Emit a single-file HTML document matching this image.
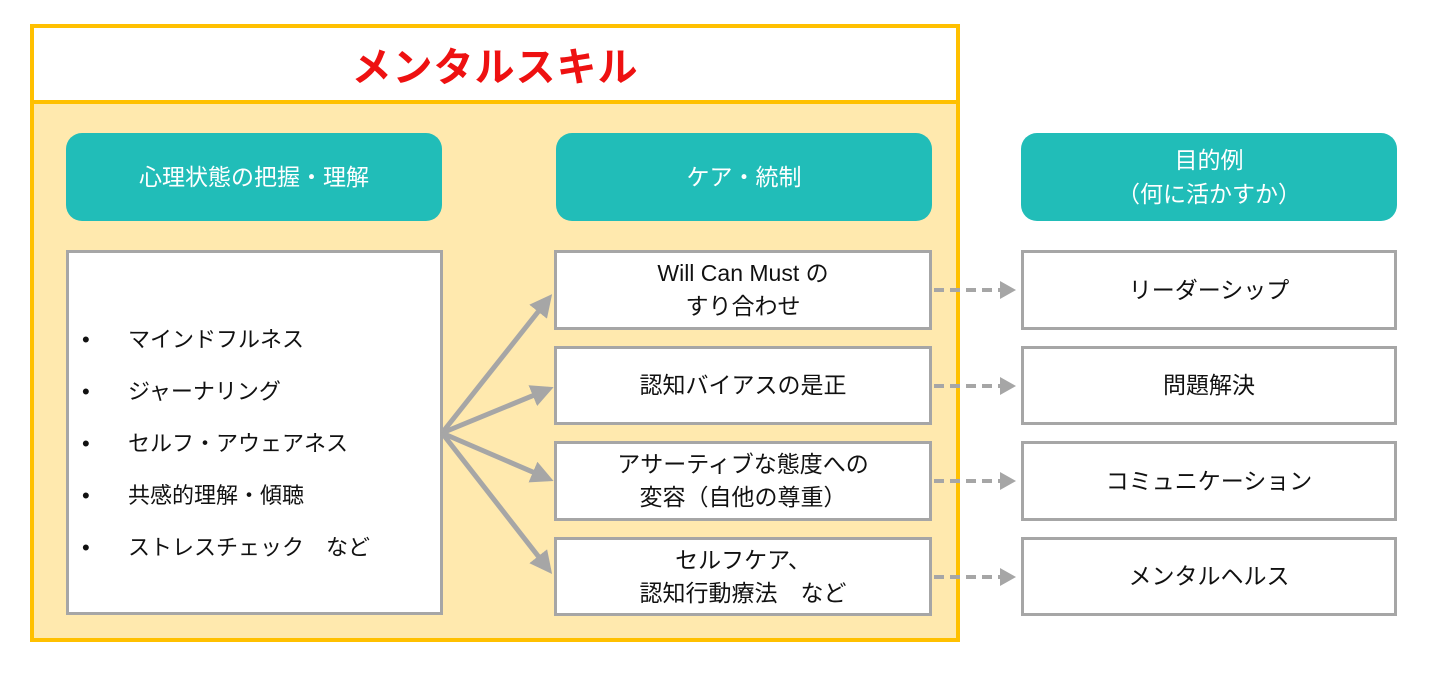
<!DOCTYPE html>
<html><head><meta charset="utf-8"><style>
body{margin:0;width:1434px;height:675px;background:#fff;position:relative;overflow:hidden;font-family:"Liberation Sans","Noto Sans CJK JP",sans-serif;}
.a{position:absolute;box-sizing:border-box;}
.outer{left:30px;top:24px;width:930px;height:618px;border:4px solid #FFC000;background:#FFE9AE;}
.hdr{left:34px;top:28px;width:922px;height:76px;background:#fff;border-bottom:4px solid #FFC000;color:#EE1111;font-weight:bold;font-size:40px;text-align:center;line-height:80px;letter-spacing:1px;}
.teal{background:#21BDB8;border-radius:16px;color:#fff;font-size:23px;display:flex;align-items:center;justify-content:center;text-align:center;line-height:34px;}
.box{background:#fff;border:3px solid #A6A6A6;font-size:23px;color:#111;display:flex;align-items:center;justify-content:center;text-align:center;line-height:33px;}
.li{position:absolute;left:82px;font-size:22px;color:#111;}
.li span{display:inline-block;width:46px;}
</style></head><body>
<div class="a outer"></div>
<div class="a hdr">メンタルスキル</div>
<div class="a teal" style="left:66px;top:133px;width:376px;height:88px">心理状態の把握・理解</div>
<div class="a teal" style="left:556px;top:133px;width:376px;height:88px">ケア・統制</div>
<div class="a teal" style="left:1021px;top:133px;width:376px;height:88px">目的例<br>（何に活かすか）</div>
<div class="a box" style="left:66px;top:250px;width:377px;height:365px"></div>
<div class="li" style="top:322px"><span>•</span>マインドフルネス</div>
<div class="li" style="top:374px"><span>•</span>ジャーナリング</div>
<div class="li" style="top:426px"><span>•</span>セルフ・アウェアネス</div>
<div class="li" style="top:478px"><span>•</span>共感的理解・傾聴</div>
<div class="li" style="top:530px"><span>•</span>ストレスチェック　など</div>
<div class="a box" style="left:554px;top:250px;width:378px;height:80px">Will Can Must の<br>すり合わせ</div>
<div class="a box" style="left:554px;top:346px;width:378px;height:79px">認知バイアスの是正</div>
<div class="a box" style="left:554px;top:441px;width:378px;height:80px">アサーティブな態度への<br>変容（自他の尊重）</div>
<div class="a box" style="left:554px;top:537px;width:378px;height:79px">セルフケア、<br>認知行動療法　など</div>
<div class="a box" style="left:1021px;top:250px;width:376px;height:80px">リーダーシップ</div>
<div class="a box" style="left:1021px;top:346px;width:376px;height:79px">問題解決</div>
<div class="a box" style="left:1021px;top:441px;width:376px;height:80px">コミュニケーション</div>
<div class="a box" style="left:1021px;top:537px;width:376px;height:79px">メンタルヘルス</div>
<svg class="a" style="left:0;top:0" width="1434" height="675">
<defs><marker id="m" markerWidth="4.5" markerHeight="4.5" refX="3.5" refY="2.25" orient="auto"><path d="M0,0L4.5,2.25L0,4.5z" fill="#A6A6A6"/></marker>
<marker id="d" markerWidth="4" markerHeight="4.5" refX="3" refY="2.25" orient="auto"><path d="M0,0L4,2.25L0,4.5z" fill="#A6A6A6"/></marker></defs>
<g stroke="#A6A6A6" stroke-width="5" fill="none">
<line x1="442" y1="433" x2="549" y2="298" marker-end="url(#m)"/>
<line x1="442" y1="433" x2="549" y2="389" marker-end="url(#m)"/>
<line x1="442" y1="433" x2="549" y2="479" marker-end="url(#m)"/>
<line x1="442" y1="433" x2="549" y2="570" marker-end="url(#m)"/>
</g>
<g stroke="#A6A6A6" stroke-width="4" fill="none" stroke-dasharray="10,6">
<line x1="934" y1="290" x2="1012" y2="290" marker-end="url(#d)"/>
<line x1="934" y1="386" x2="1012" y2="386" marker-end="url(#d)"/>
<line x1="934" y1="481" x2="1012" y2="481" marker-end="url(#d)"/>
<line x1="934" y1="577" x2="1012" y2="577" marker-end="url(#d)"/>
</g></svg>
</body></html>
